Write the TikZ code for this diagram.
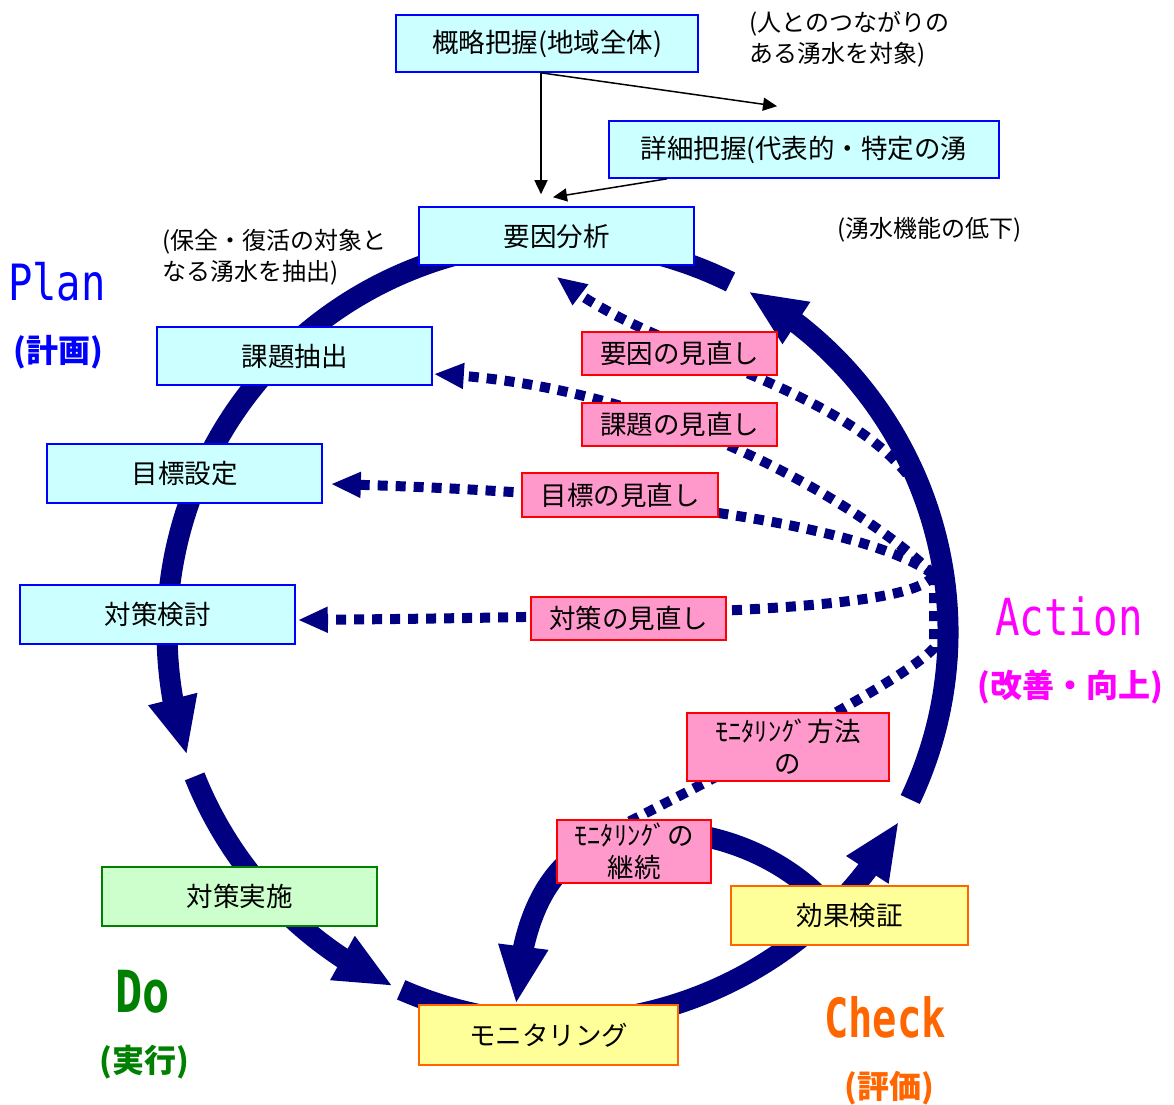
\documentclass[tikz,border=0pt]{standalone}
\usepackage{fontspec}
\usepackage{graphicx}
\usetikzlibrary{arrows.meta,bending,backgrounds}
\setmainfont{Noto Sans CJK JP}
\newfontfamily\monof{DejaVu Sans Mono}
\definecolor{ringblue}{HTML}{000080}
\definecolor{lcyan}{HTML}{CCFFFF}
\definecolor{lgreen}{HTML}{CCFFCC}
\definecolor{lyellow}{HTML}{FFFF99}
\definecolor{lpink}{HTML}{FF99CC}
\definecolor{bord}{HTML}{0000FF}
\definecolor{dgreen}{HTML}{008000}
\definecolor{orng}{HTML}{FF6600}
\definecolor{mgnt}{HTML}{FF00FF}
\definecolor{pred}{HTML}{FF0000}
\begin{document}
\begin{tikzpicture}[x=1pt,y=-1pt,
  every node/.style={inner sep=0pt},
  bx/.style={draw, line width=1.6pt, font=\fontsize{26.5}{32}\selectfont, align=center, text=black},
  cyanbox/.style={bx, draw=bord, fill=lcyan},
  greenbox/.style={bx, draw=dgreen, fill=lgreen},
  yelbox/.style={bx, draw=orng, fill=lyellow},
  pinkbox/.style={bx, draw=pred, fill=lpink},
  anno/.style={font=\fontsize{24}{31}\selectfont, align=left, text=black},
  sublabel/.style={font=\bfseries\fontsize{32}{32}\selectfont},
  ringseg/.style={draw=ringblue, line width=21pt, -{Triangle[length=58pt,width=46pt,flex]}},
  dotline/.style={draw=ringblue, line width=10pt, dash pattern=on 10pt off 8pt, -{Triangle[length=30pt,width=24pt,flex]}},
  dotplain/.style={draw=ringblue, line width=10pt, dash pattern=on 10pt off 8pt},
  thinarrow/.style={draw=black, line width=1.5pt, -{Triangle[length=14pt,width=13pt]}},
]
\path[use as bounding box] (0,0) rectangle (1174,1104);

% ---- boxes
\node[cyanbox, minimum width=302pt, minimum height=57pt] (gaiyaku) at (547,43.5) {概略把握(地域全体)};
\node[cyanbox, minimum width=390pt, minimum height=57pt] (shousai) at (804,149.5) {詳細把握(代表的・特定の湧};
\node[cyanbox, minimum width=275pt, minimum height=58pt] (youin) at (556.5,236) {要因分析};
\node[cyanbox, minimum width=275pt, minimum height=58pt] (kadai) at (294.5,356) {課題抽出};
\node[cyanbox, minimum width=275pt, minimum height=59pt] (mokuhyo) at (184.5,473.5) {目標設定};
\node[cyanbox, minimum width=275pt, minimum height=59pt] (taisaku) at (157.5,614.5) {対策検討};
\node[greenbox, minimum width=275pt, minimum height=59pt] (jisshi) at (239.5,896.5) {対策実施};
\node[yelbox, minimum width=259pt, minimum height=60pt] (monitor) at (548.5,1035) {モニタリング};
\node[yelbox, minimum width=237pt, minimum height=59pt] (kouka) at (849.5,915.5) {効果検証};
\node[pinkbox, minimum width=195pt, minimum height=43pt] (p1) at (679.5,353.5) {要因の見直し};
\node[pinkbox, minimum width=195pt, minimum height=43pt] (p2) at (679.5,424.5) {課題の見直し};
\node[pinkbox, minimum width=196pt, minimum height=44pt] (p3) at (620,495) {目標の見直し};
\node[pinkbox, minimum width=195pt, minimum height=43pt] (p4) at (628.5,618.5) {対策の見直し};
\node[pinkbox, minimum width=202pt, minimum height=68pt] (p5) at (788,747) {ﾓﾆﾀﾘﾝｸﾞ方法\\の};
\node[pinkbox, minimum width=154pt, minimum height=63pt] (p6) at (634,851.5) {ﾓﾆﾀﾘﾝｸﾞの\\継続};

% ---- annotations
\node[anno, anchor=north west] (ann1) at (749,11) {(人とのつながりの\\ある湧水を対象)};
\node[anno, anchor=north west] (ann2) at (837,217) {(湧水機能の低下)};
\node[anno, anchor=north west] (ann3) at (162,229) {(保全・復活の対象と\\なる湧水を抽出)};

% ---- PDCA labels
\node[anchor=base west, text=bord] (plan) at (8,300) {\scalebox{0.81}[1]{\monof\fontsize{50}{50}\selectfont Plan}};
\node[sublabel, text=bord] (plansub) at (58.5,352) {(計画)};
\node[anchor=base west, text=mgnt] (action) at (995,635) {\scalebox{0.8}[1]{\monof\fontsize{51}{51}\selectfont Action}};
\node[sublabel, text=mgnt] (actsub) at (1070.5,687) {(改善・向上)};
\node[anchor=base west, text=dgreen] (do) at (115,1012) {\scalebox{0.78}[1]{\monof\bfseries\fontsize{58}{58}\selectfont Do}};
\node[sublabel, text=dgreen] (dosub) at (144,1062) {(実行)};
\node[anchor=base west, text=orng] (check) at (824,1037) {\scalebox{0.75}[1]{\monof\bfseries\fontsize{54}{54}\selectfont Check}};
\node[sublabel, text=orng] (checksub) at (889,1088) {(評価)};

% ---- thin arrows
\draw[thinarrow] ([xshift=-6pt]gaiyaku.south) -- ([xshift=-15.5pt,yshift=12pt]youin.north);
\draw[thinarrow] ([xshift=-6pt]gaiyaku.south) -- ([xshift=-27pt,yshift=14pt]shousai.north);
\draw[thinarrow] ([xshift=-137pt]shousai.south) -- ([xshift=-3.5pt,yshift=9pt]youin.north);

\begin{pgfonlayer}{background}
\coordinate (C) at (557.5,632);
\coordinate (hub) at (934,575);
% dotted review arrows
\draw[dotline] (907,474) .. controls (830,380) and (640,350) .. ([yshift=-11pt]youin.south);
\draw[dotline] (hub) .. controls (880,520) and (680,385) .. ([xshift=1pt,yshift=-18pt]kadai.east);
\draw[dotline] (hub) .. controls (900,548) and (760,495) .. ([xshift=8pt,yshift=-10.5pt]mokuhyo.east);
\draw[dotline] (hub) .. controls (915,605) and (760,616) .. ([xshift=2pt,yshift=-5.5pt]taisaku.east);
\draw[dotplain] (hub) -- (934,648) .. controls (905,680) and (740,765) .. ([xshift=-6pt,yshift=-3pt]p6.north);
% ring
\draw[ringseg] ([shift={(63.7:390.5pt)}]C) arc[start angle=63.7, end angle=198.4, radius=390.5pt];
\draw[ringseg] ([shift={(201.7:390.5pt)}]C) arc[start angle=201.7, end angle=245.1, radius=390.5pt];
\draw[ringseg] ([shift={(246.4:390.5pt)}]C) arc[start angle=246.4, end angle=331.0, radius=390.5pt];
\draw[ringseg] ([shift={(334.6:390.5pt)}]C) arc[start angle=334.6, end angle=420.8, radius=390.5pt];
% continue-monitoring loop
\draw[ringseg] ([xshift=-14pt]kouka.center) .. controls (790,855) and (700,820) .. (620,835)
  .. controls (560,850) and (522,900) .. ([xshift=-32.5pt]monitor.north);
\end{pgfonlayer}
\end{tikzpicture}
\end{document}
